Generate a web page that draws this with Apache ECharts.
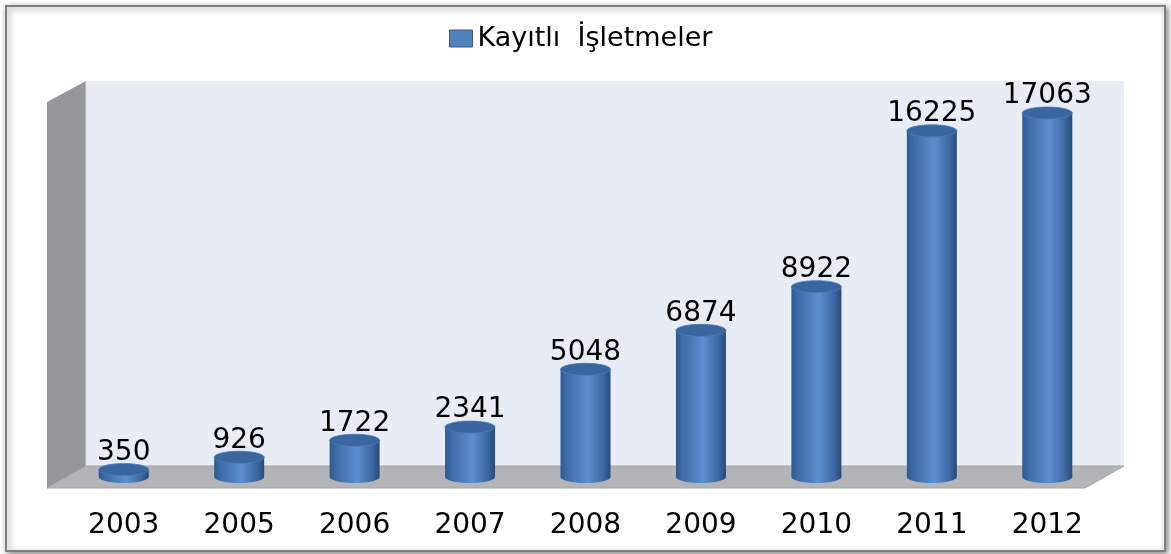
<!DOCTYPE html>
<html>
<head>
<meta charset="utf-8">
<title>Kayıtlı İşletmeler</title>
<script src="https://cdn.jsdelivr.net/npm/echarts@6/dist/echarts.min.js"></script>
<style>
html,body{margin:0;padding:0;background:#fff;}
#main{width:1171px;height:554px;}
</style>
</head>
<body>
<div id="main"></div>
<script>
// yıllar ve kayıtlı işletme sayıları
var years = ['2003','2005','2006','2007','2008','2009','2010','2011','2012'];
var isletmeler = [350, 926, 1722, 2341, 5048, 6874, 8922, 16225, 17063];
var seriesName = 'Kayıtlı  İşletmeler';

var myChart = echarts.init(document.getElementById('main'));

var fontFam = '"DejaVu Sans", sans-serif';

// silindir gövdesi için yatay gradyan
function bodyFill(){
	return new echarts.graphic.LinearGradient(0, 0, 1, 0, [
		{offset: 0, color: '#2f5a92'},
		{offset: 0.15, color: '#3f6eaa'},
		{offset: 0.55, color: '#5b8fd0'},
		{offset: 0.85, color: '#3c68a2'},
		{offset: 1, color: '#274a7a'}
	]);
}

function renderCylinder(params, api){
	var base = api.coord([api.value(0), 0]);
	var top = api.coord([api.value(0), api.value(1)]);
	var w = 50, ry = 6;
	var cx = top[0];
	return {
		type: 'group',
		children: [
			{type: 'ellipse', shape: {cx: cx, cy: base[1], rx: w / 2, ry: ry}, style: {fill: bodyFill()}},
			{type: 'rect', shape: {x: cx - w / 2, y: top[1], width: w, height: base[1] - top[1]}, style: {fill: bodyFill()}},
			{type: 'ellipse', shape: {cx: cx, cy: top[1], rx: w / 2, ry: ry}, style: {fill: '#3a66a0', stroke: '#4a7bbb', lineWidth: 0.8}},
			{type: 'text', x: cx, y: top[1] - ry + 3, style: {
				text: String(api.value(1)), align: 'center', verticalAlign: 'bottom',
				font: '28px ' + fontFam, fill: '#000'
			}}
		]
	};
}

option = {
	animation: false,
	backgroundColor: '#fff',
	graphic: [
		// dış çerçeve
		{type: 'rect', shape: {x: 6, y: 6, width: 1159, height: 545}, z: -10,
			style: {fill: '#fff', stroke: '#7f7f7f', lineWidth: 2, shadowBlur: 6, shadowColor: 'rgba(0,0,0,0.45)', shadowOffsetX: 2, shadowOffsetY: 2}},
		// arka duvar
		{type: 'rect', shape: {x: 86, y: 81, width: 1038, height: 385}, z: -5, style: {fill: '#e8ecf5'}},
		// sol duvar
		{type: 'polygon', shape: {points: [[47, 102], [86, 81], [86, 466], [47, 488]]}, z: -5, style: {fill: '#96979b'}},
		{type: 'line', shape: {x1: 86, y1: 81, x2: 86, y2: 466}, z: -4, style: {stroke: '#d4d7dd', lineWidth: 1}},
		// zemin
		{type: 'polygon', shape: {points: [[86, 466], [1124, 466], [1085, 488], [47, 488]]}, z: -5, style: {fill: '#b3b4b8', stroke: '#a4a5a9', lineWidth: 1}}
	],
	legend: {
		data: [seriesName],
		left: 444,
		top: 20,
		itemWidth: 23,
		itemHeight: 17,
		itemGap: 10,
		icon: 'rect',
		textStyle: {fontSize: 27, fontFamily: fontFam, color: '#000'},
		itemStyle: {color: '#4f81bd', borderColor: '#385d8a', borderWidth: 1}
	},
	grid: {left: 66, right: 66, top: 93, bottom: 77},
	xAxis: {
		type: 'category',
		data: years,
		axisLine: {show: false},
		axisTick: {show: false},
		axisLabel: {margin: 35, fontSize: 28, fontFamily: fontFam, color: '#000'}
	},
	yAxis: {
		type: 'value',
		min: 0,
		max: 18000,
		show: false,
		splitLine: {show: false}
	},
	series: [{
		name: seriesName,
		type: 'custom',
		renderItem: renderCylinder,
		itemStyle: {color: '#4f81bd'},
		encode: {x: 0, y: 1},
		data: years.map(function(y, i){ return [i, isletmeler[i]]; })
	}]
};

myChart.setOption(option);
</script>
</body>
</html>
